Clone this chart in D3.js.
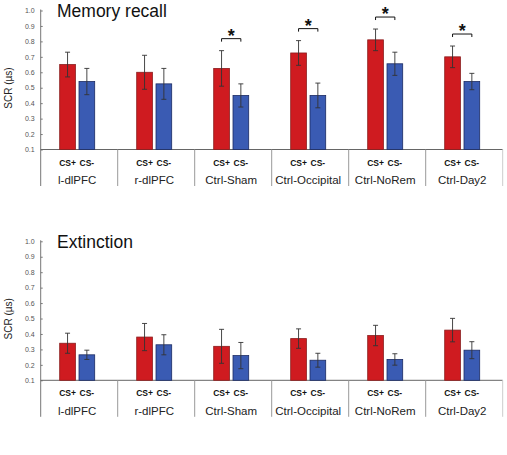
<!DOCTYPE html>
<html>
<head>
<meta charset="utf-8">
<script src="https://cdn.jsdelivr.net/npm/d3@7"></script>
<style>
  body { margin: 0; background: #fff; }
  svg { font-family: "Liberation Sans", Arial, sans-serif; }
</style>
</head>
<body>
<svg width="507" height="455"></svg>
<script>
var groups = ["l-dlPFC", "r-dlPFC", "Ctrl-Sham", "Ctrl-Occipital", "Ctrl-NoRem", "Ctrl-Day2"];
var conds = ["CS+", "CS-"];
var yTicks = [0.1, 0.2, 0.3, 0.4, 0.5, 0.6, 0.7, 0.8, 0.9, 1.0];

// Memory recall
var recallPlus = [0.65, 0.60, 0.625, 0.725, 0.81, 0.70];
var recallPlusErr = [0.08, 0.11, 0.115, 0.08, 0.07, 0.07];
var recallMinus = [0.54, 0.525, 0.45, 0.45, 0.655, 0.54];
var recallMinusErr = [0.085, 0.10, 0.075, 0.08, 0.075, 0.053];
var recallSig = [false, false, true, true, true, true];

// Extinction
var extPlus = [0.34, 0.38, 0.32, 0.37, 0.39, 0.425];
var extPlusErr = [0.065, 0.088, 0.11, 0.063, 0.066, 0.076];
var extMinus = [0.265, 0.33, 0.26, 0.23, 0.235, 0.295];
var extMinusErr = [0.03, 0.065, 0.085, 0.045, 0.037, 0.055];
var extSig = [false, false, false, false, false, false];

var colors = {"CS+": "#cf1b20", "CS-": "#3a5bb3"};
var strokes = {"CS+": "#8a1c1c", "CS-": "#1c2b63"};

var svg = d3.select("svg");

var x0 = d3.scaleBand().domain(groups).range([40.7, 502.7]);
var x1 = d3.scaleBand().domain(conds).range([19, 54]).paddingInner(0.187);

function drawPanel(offY, title, plus, plusErr, minus, minusErr, sig){
	var g = svg.append("g").attr("transform", "translate(0," + offY + ")");
	var y = d3.scaleLinear().domain([0.1, 1.0]).range([149.5, 10.5]);

	var data = groups.map(function(grp, i){
		return [
			{group: grp, cond: "CS+", v: plus[i], e: plusErr[i]},
			{group: grp, cond: "CS-", v: minus[i], e: minusErr[i]}
		];
	});

	// title
	g.append("text")
		.attr("x", 57).attr("y", 17)
		.attr("font-size", 17.5)
		.attr("fill", "#111")
		.text(title);

	// y axis
	var yAxis = g.append("g")
		.attr("transform", "translate(40.7,0)")
		.call(d3.axisLeft(y).tickValues(yTicks).tickFormat(d3.format(".1f")).tickSizeInner(-2).tickSizeOuter(0).tickPadding(6));
	yAxis.select(".domain").remove();
	yAxis.selectAll(".tick line").attr("stroke", "#777");
	yAxis.selectAll(".tick text").attr("font-size", 7).attr("fill", "#555").attr("font-family", "Liberation Sans, Arial, sans-serif");

	g.append("line")
		.attr("x1", 40.7).attr("x2", 40.7)
		.attr("y1", 9.5).attr("y2", 186)
		.attr("stroke", "#777").attr("stroke-width", 1);

	g.append("text")
		.attr("transform", "translate(12,88) rotate(-90)")
		.attr("text-anchor", "middle")
		.attr("font-size", 10)
		.attr("fill", "#222")
		.text("SCR (\u00b5s)");

	// baseline + group separators
	g.append("line")
		.attr("x1", 40.7).attr("x2", 502.7)
		.attr("y1", 149.5).attr("y2", 149.5)
		.attr("stroke", "#666").attr("stroke-width", 1);

	g.selectAll(".sep")
		.data(groups.slice(1).concat(["end"]))
		.enter().append("line")
		.attr("x1", function(d){ return d === "end" ? 502.7 : x0(d); })
		.attr("x2", function(d){ return d === "end" ? 502.7 : x0(d); })
		.attr("y1", 149.5).attr("y2", 186)
		.attr("stroke", function(d){ return d === "end" ? "#ccc" : "#999"; })
		.attr("stroke-width", 1);

	var grp = g.selectAll(".grp")
		.data(data)
		.enter().append("g")
		.attr("transform", function(d){ return "translate(" + x0(d[0].group) + ",0)"; });

	grp.selectAll("rect")
		.data(function(d){ return d; })
		.enter().append("rect")
		.attr("x", function(d){ return x1(d.cond); })
		.attr("width", x1.bandwidth())
		.attr("y", function(d){ return y(d.v); })
		.attr("height", function(d){ return y(0.1) - y(d.v); })
		.attr("fill", function(d){ return colors[d.cond]; })
		.attr("stroke", function(d){ return strokes[d.cond]; })
		.attr("stroke-width", 0.8);

	// error bars
	var eb = grp.selectAll(".eb")
		.data(function(d){ return d; })
		.enter().append("g")
		.attr("stroke", "#333").attr("stroke-width", 0.9);
	eb.append("line")
		.attr("x1", function(d){ return x1(d.cond) + x1.bandwidth() / 2; })
		.attr("x2", function(d){ return x1(d.cond) + x1.bandwidth() / 2; })
		.attr("y1", function(d){ return y(d.v + d.e); })
		.attr("y2", function(d){ return y(d.v - d.e); });
	[1, -1].forEach(function(s){
		eb.append("line")
			.attr("x1", function(d){ return x1(d.cond) + x1.bandwidth() / 2 - 2.5; })
			.attr("x2", function(d){ return x1(d.cond) + x1.bandwidth() / 2 + 2.5; })
			.attr("y1", function(d){ return y(d.v + s * d.e); })
			.attr("y2", function(d){ return y(d.v + s * d.e); });
	});

	// condition labels
	grp.selectAll(".cl")
		.data(function(d){ return d; })
		.enter().append("text")
		.attr("x", function(d){ return x1(d.cond) + x1.bandwidth() / 2; })
		.attr("y", 165.5)
		.attr("text-anchor", "middle")
		.attr("font-size", 8.5)
		.attr("font-weight", "bold")
		.attr("fill", "#111")
		.text(function(d){ return d.cond; });

	// group labels
	grp.append("text")
		.attr("x", 36.5)
		.attr("y", 184)
		.attr("text-anchor", "middle")
		.attr("font-size", 11.5)
		.attr("fill", "#222")
		.text(function(d){ return d[0].group; });

	// significance brackets
	var sigGrp = grp.filter(function(d, i){ return sig[i]; });
	sigGrp.each(function(d){
		var top = d3.min(d, function(b){ return y(b.v + b.e); }) - 12;
		var xa = x1("CS+") + x1.bandwidth() / 2;
		var xb = x1("CS-") + x1.bandwidth() / 2;
		var s = d3.select(this);
		s.append("path")
			.attr("d", "M" + xa + "," + (top + 3) + "V" + top + "H" + xb + "V" + (top + 3))
			.attr("fill", "none")
			.attr("stroke", "#111")
			.attr("stroke-width", 1);
		s.append("text")
			.attr("x", (xa + xb) / 2)
			.attr("y", top + 3)
			.attr("text-anchor", "middle")
			.attr("font-size", 18)
			.attr("font-weight", "bold")
			.attr("fill", "#111")
			.text("*");
	});
}

drawPanel(0, "Memory recall", recallPlus, recallPlusErr, recallMinus, recallMinusErr, recallSig);
drawPanel(230.8, "Extinction", extPlus, extPlusErr, extMinus, extMinusErr, extSig);
</script>
</body>
</html>
